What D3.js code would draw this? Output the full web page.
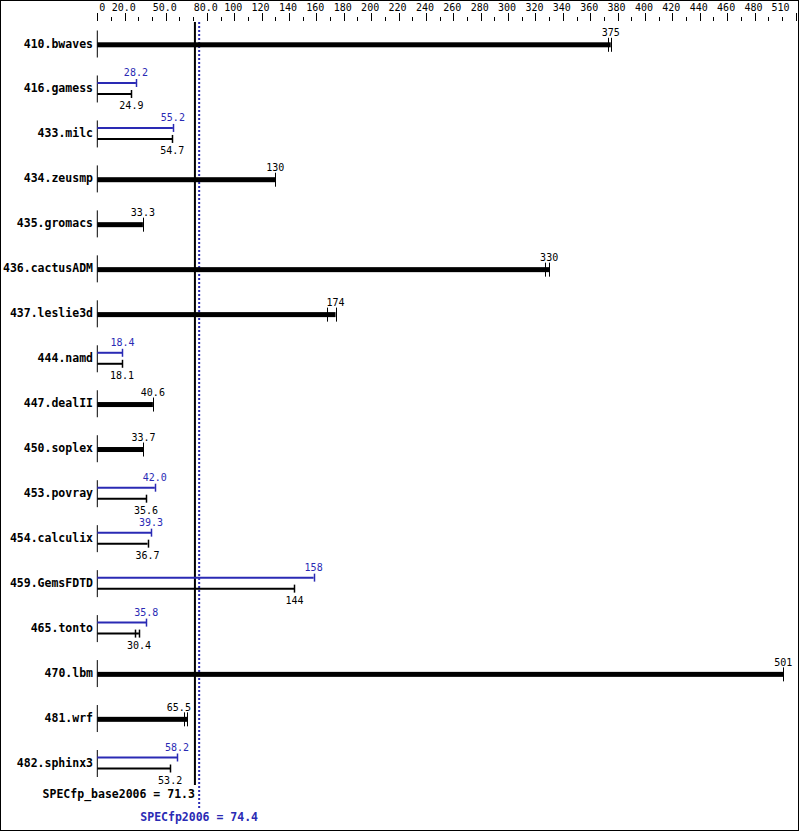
<!DOCTYPE html>
<html><head><meta charset="utf-8">
<script src="https://cdn.jsdelivr.net/npm/d3@7"></script>
<style>body{margin:0;background:#fff}svg{display:block}</style>
</head><body>
<script>
const benchmarks = ["410.bwaves","416.gamess","433.milc","434.zeusmp","435.gromacs","436.cactusADM","437.leslie3d","444.namd","447.dealII","450.soplex","453.povray","454.calculix","459.GemsFDTD","465.tonto","470.lbm","481.wrf","482.sphinx3"];
// base ratios (black)
const baseValues = [375, 24.9, 54.7, 130, 33.3, 330, 174, 18.1, 40.6, 33.7, 35.6, 36.7, 144, 30.4, 501, 65.5, 53.2];
// peak ratios (blue); null = base and peak drawn as one thick bar
const peakValues = [null, 28.2, 55.2, null, null, null, null, 18.4, null, null, 42.0, 39.3, 158, 35.8, null, null, 58.2];
// additional run ticks on base bars
const extraTicks = [[373], [], [], [], [], [327], [168], [], [], [], [], [], [], [27.5], [], [63], []];
const tickValues = [0,10,20,30,40,50,60,70,80,90,100,110,120,130,140,150,160,170,180,190,200,210,220,230,240,250,260,270,280,290,300,310,320,330,340,350,360,370,380,390,400,410,420,430,440,450,460,470,480,490,500,510];
const tickLabels = [0,20,50,80,100,120,140,160,180,200,220,240,260,280,300,320,340,360,380,400,420,440,460,480,510];
const specBase = 71.3, specPeak = 74.4;

const W = 799, H = 831, BLUE = "#2a2ab4";
const FONT = "'DejaVu Sans Mono', monospace";
const svg = d3.select("body").append("svg").attr("width", W).attr("height", H);
svg.append("rect").attr("x",0.5).attr("y",0.5).attr("width",W-1).attr("height",H-1)
  .attr("fill","#fff").attr("stroke","#000");

const x = d3.scaleLinear().domain([0,510]).range([97.3, 795.6]);
const y = d3.scalePoint().domain(benchmarks).range([43.5, 763]);

// top axis
const ax = svg.append("g");
ax.selectAll("line.t").data(tickValues).join("line")
  .attr("x1", d=>Math.round(x(d))+0.5).attr("x2", d=>Math.round(x(d))+0.5)
  .attr("y1", d=>tickLabels.includes(d)?13:17).attr("y2", 21)
  .attr("stroke","#000").attr("stroke-width",1);
ax.selectAll("text").data(tickLabels).join("text")
  .attr("x", (d,i)=> i===0 ? x(d)+2 : (i===tickLabels.length-1 ? x(d)-6 : x(d)-1))
  .attr("y", 11)
  .attr("text-anchor", (d,i)=> i===0 ? "start" : (i===tickLabels.length-1 ? "end" : "middle"))
  .attr("font-family", FONT).attr("font-size", "10px")
  .text(d => d < 100 && d !== 0 ? d3.format(".1f")(d) : String(d));

// reference lines
svg.append("line").attr("x1", x(specBase)).attr("x2", x(specBase)).attr("y1", 22).attr("y2", 785)
  .attr("stroke","#000").attr("stroke-width",2);
svg.append("line").attr("x1", x(specPeak)).attr("x2", x(specPeak)).attr("y1", 22).attr("y2", 808)
  .attr("stroke",BLUE).attr("stroke-width",2).attr("stroke-dasharray","2,2");

const CHW = 6.02; // approx char width at 10px
function labelX(v, txt) {
  const cx = x(v), half = txt.length*CHW/2, lx = x(specBase);
  if (cx - half < lx + 2 && cx + half > lx - 2 && cx < lx) return lx - 4 - half;
  return cx;
}

benchmarks.forEach((name, i) => {
  const cy = y(name);
  const grp = svg.append("g");
  grp.append("text").attr("x", 93).attr("y", cy+4).attr("text-anchor","end")
    .attr("font-family", FONT).attr("font-weight","bold").attr("font-size","11.5px").text(name);
  grp.append("line").attr("x1", x(0)).attr("x2", x(0)).attr("y1", cy-13).attr("y2", cy+14)
    .attr("stroke","#000").attr("stroke-width",1);
  const b = baseValues[i], p = peakValues[i];
  const fmt = v => v >= 100 ? String(Math.round(v)) : d3.format(".1f")(v);
  if (p === null) {
    const by = cy + 1.3;
    grp.append("rect").attr("x", x(0)).attr("y", by-2.5).attr("width", x(b)-x(0)).attr("height", 5).attr("fill","#000");
    [b, ...extraTicks[i]].forEach(t => {
      grp.append("line").attr("x1", Math.round(x(t))+0.5).attr("x2", Math.round(x(t))+0.5)
        .attr("y1", by-7).attr("y2", by+7).attr("stroke","#000").attr("stroke-width",1);
    });
    const t = fmt(b);
    grp.append("text").attr("x", labelX(b, t)).attr("y", by-8.5).attr("text-anchor","middle")
      .attr("font-family", FONT).attr("font-size","10px").text(t);
  } else {
    const yp = cy-5.5, yb = cy+5.5;
    grp.append("line").attr("x1", x(0)).attr("x2", x(p)).attr("y1", yp).attr("y2", yp).attr("stroke",BLUE).attr("stroke-width",2);
    grp.append("line").attr("x1", Math.round(x(p))+0.5).attr("x2", Math.round(x(p))+0.5).attr("y1", yp-4).attr("y2", yp+4).attr("stroke",BLUE).attr("stroke-width",1.5);
    grp.append("line").attr("x1", x(0)).attr("x2", x(b)).attr("y1", yb).attr("y2", yb).attr("stroke","#000").attr("stroke-width",2);
    [b, ...extraTicks[i]].forEach(t => {
      grp.append("line").attr("x1", Math.round(x(t))+0.5).attr("x2", Math.round(x(t))+0.5).attr("y1", yb-4).attr("y2", yb+4).attr("stroke","#000").attr("stroke-width",1.5);
    });
    const tp = fmt(p), tb = fmt(b);
    grp.append("text").attr("x", labelX(p, tp)).attr("y", cy-12).attr("text-anchor","middle")
      .attr("font-family", FONT).attr("font-size","10px").attr("fill",BLUE).text(tp);
    grp.append("text").attr("x", labelX(b, tb)).attr("y", cy+21).attr("text-anchor","middle")
      .attr("font-family", FONT).attr("font-size","10px").text(tb);
  }
});

svg.append("text").attr("x", x(specBase)).attr("y", 798).attr("text-anchor","end")
  .attr("font-family", FONT).attr("font-weight","bold").attr("font-size","11.5px")
  .text("SPECfp_base2006 = " + specBase.toFixed(1));
svg.append("text").attr("x", x(specPeak)).attr("y", 821).attr("text-anchor","middle")
  .attr("font-family", FONT).attr("font-weight","bold").attr("font-size","11.5px").attr("fill",BLUE)
  .text("SPECfp2006 = " + specPeak.toFixed(1));
</script>
</body></html>
